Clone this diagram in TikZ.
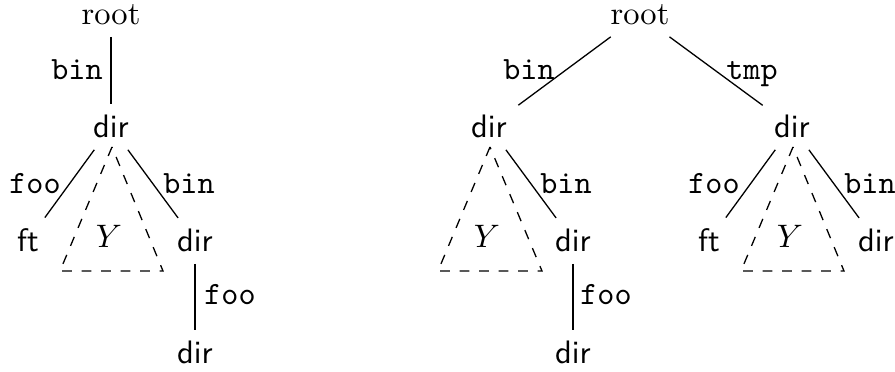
\documentclass[tikz,border=0pt]{standalone}
\begin{document}
\begin{tikzpicture}[x=0.3077pt,y=-0.3077pt,
  rt/.style={anchor=base,font=\rmfamily},
  dn/.style={anchor=base,font=\sffamily},
  lbl/.style={anchor=base,font=\ttfamily,inner sep=0pt},
  edge/.style={draw,line width=0.4pt},
  subtree/.style={draw,dashed,line width=0.4pt}]
\useasboundingbox (0,0) rectangle (895,372);

% ---------- left tree ----------
\node[rt] (rA) at (111,25) {root};
\node[dn] (dA1) at (111,138) {dir};
\node[dn] (fA) at (28,252) {ft};
\node[dn] (dA2) at (195,252) {dir};
\node[dn] (dA3) at (195,364) {dir};
\node[anchor=base] (yA) at (109,248) {$Y$};
\coordinate (tA1) at (112,147);
\coordinate (tA2) at (60,271);
\coordinate (tA3) at (163,271);

\draw[edge] (rA) -- (dA1);
\draw[edge] (dA1) -- (fA);
\draw[edge] (dA1) -- (dA2);
\draw[edge] (dA2) -- (dA3);
\draw[subtree] (tA1) -- (tA2) -- (tA3) -- cycle;

\node[lbl] (lA1) at (77,80) {bin};
\node[lbl] (lA2) at (35,194) {foo};
\node[lbl] (lA3) at (189,194) {bin};
\node[lbl] (lA4) at (230,305) {foo};

% ---------- right tree ----------
\node[rt] (rB) at (640,25) {root};
\node[dn] (dB1) at (489,138) {dir};
\node[dn] (dC1) at (792,138) {dir};

\draw[edge] (rB) -- (dB1);
\draw[edge] (rB) -- (dC1);
\node[lbl] (lB0) at (529,80) {bin};
\node[lbl] (lC0) at (752,80) {tmp};

% left subtree
\node[dn] (dB2) at (573,252) {dir};
\node[dn] (dB3) at (573,364) {dir};
\node[anchor=base] (yB) at (487,248) {$Y$};
\coordinate (tB1) at (490,147);
\coordinate (tB2) at (438,271);
\coordinate (tB3) at (542,271);
\draw[edge] (dB1) -- (dB2);
\draw[edge] (dB2) -- (dB3);
\draw[subtree] (tB1) -- (tB2) -- (tB3) -- cycle;
\node[lbl] (lB1) at (566,194) {bin};
\node[lbl] (lB2) at (606,305) {foo};

% right subtree
\node[dn] (fC) at (709,252) {ft};
\node[dn] (dC2) at (876,252) {dir};
\node[anchor=base] (yC) at (790,248) {$Y$};
\coordinate (tC1) at (793,147);
\coordinate (tC2) at (741,271);
\coordinate (tC3) at (844,271);
\draw[edge] (dC1) -- (fC);
\draw[edge] (dC1) -- (dC2);
\draw[subtree] (tC1) -- (tC2) -- (tC3) -- cycle;
\node[lbl] (lC1) at (714,194) {foo};
\node[lbl] (lC2) at (870,194) {bin};
\end{tikzpicture}
\end{document}
